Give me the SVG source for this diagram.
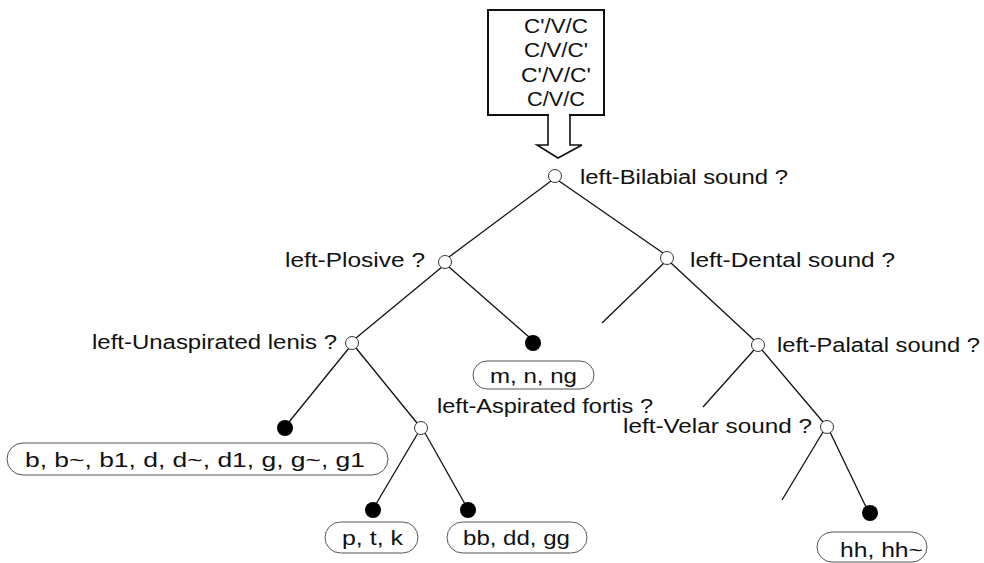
<svg xmlns="http://www.w3.org/2000/svg" width="984" height="563" viewBox="0 0 984 563">
  <style>
    text { font-family: "Liberation Sans", Arial, sans-serif; font-size: 19.5px; fill: #111; }
    .in { font-size: 20px; text-anchor: middle; }
    .edge { stroke: #111; stroke-width: 1.3; fill: none; }
    .q { fill: #fff; stroke: #333; stroke-width: 1; }
    .leaf { fill: #000; }
    .pill { fill: none; stroke: #555; stroke-width: 1; }
  </style>

  <!-- input syllable patterns -->
  <g id="input">
    <rect x="488" y="10" width="116" height="105" fill="#fff" stroke="#111" stroke-width="2"/>
    <text class="in" x="556" y="33" textLength="64" lengthAdjust="spacingAndGlyphs">C'/V/C</text>
    <text class="in" x="556" y="57" textLength="64" lengthAdjust="spacingAndGlyphs">C/V/C'</text>
    <text class="in" x="556" y="82" textLength="70" lengthAdjust="spacingAndGlyphs">C'/V/C'</text>
    <text class="in" x="556" y="106" textLength="58" lengthAdjust="spacingAndGlyphs">C/V/C</text>
    <rect x="549" y="112" width="20" height="5" fill="#fff"/>
    <path d="M548,114 V145 H537 L558,158 L582,145 H570 V114" fill="none" stroke="#111" stroke-width="1.6"/>
  </g>

  <!-- branches -->
  <g id="connectors">
    <line class="edge" x1="551" y1="181" x2="449" y2="257"/>
    <line class="edge" x1="559" y1="181" x2="663" y2="253"/>
    <line class="edge" x1="442" y1="267" x2="356" y2="338"/>
    <line class="edge" x1="449" y1="267" x2="529" y2="337"/>
    <line class="edge" x1="664" y1="263" x2="602" y2="323"/>
    <line class="edge" x1="671" y1="263" x2="754" y2="340"/>
    <line class="edge" x1="349" y1="348" x2="289" y2="422"/>
    <line class="edge" x1="356" y1="348" x2="417" y2="423"/>
    <line class="edge" x1="754" y1="350" x2="703" y2="407"/>
    <line class="edge" x1="762" y1="350" x2="823" y2="422"/>
    <line class="edge" x1="418" y1="433" x2="376" y2="504"/>
    <line class="edge" x1="425" y1="433" x2="465" y2="504"/>
    <line class="edge" x1="823" y1="432" x2="782" y2="500"/>
    <line class="edge" x1="830" y1="432" x2="866" y2="507"/>
  </g>

  <!-- decision nodes -->
  <g id="bilabial">
    <circle class="q" cx="555" cy="176" r="6.5"/>
    <text x="580" y="184" textLength="208" lengthAdjust="spacingAndGlyphs">left-Bilabial sound ?</text>
  </g>
  <g id="plosive">
    <circle class="q" cx="445" cy="262" r="6.5"/>
    <text x="285" y="267" textLength="140" lengthAdjust="spacingAndGlyphs">left-Plosive ?</text>
  </g>
  <g id="dental">
    <circle class="q" cx="667" cy="258" r="6.5"/>
    <text x="690" y="267" textLength="205" lengthAdjust="spacingAndGlyphs">left-Dental sound ?</text>
  </g>
  <g id="unaspirated">
    <circle class="q" cx="352" cy="343" r="6.5"/>
    <text x="92" y="349" textLength="245" lengthAdjust="spacingAndGlyphs">left-Unaspirated lenis ?</text>
  </g>
  <g id="palatal">
    <circle class="q" cx="758" cy="345" r="6.5"/>
    <text x="777" y="352" textLength="203" lengthAdjust="spacingAndGlyphs">left-Palatal sound ?</text>
  </g>
  <g id="aspirated">
    <circle class="q" cx="421" cy="428" r="6.5"/>
    <text x="437" y="413" textLength="216" lengthAdjust="spacingAndGlyphs">left-Aspirated fortis ?</text>
  </g>
  <g id="velar">
    <circle class="q" cx="827" cy="427" r="6.5"/>
    <text x="623" y="433" textLength="189" lengthAdjust="spacingAndGlyphs">left-Velar sound ?</text>
  </g>

  <!-- leaf classes -->
  <g id="nasals">
    <circle class="leaf" cx="533" cy="343" r="8"/>
    <rect class="pill" x="473" y="361" width="121" height="28" rx="14"/>
    <text x="490" y="383" textLength="87" lengthAdjust="spacingAndGlyphs">m, n, ng</text>
  </g>
  <g id="lenis">
    <circle class="leaf" cx="285" cy="428" r="8"/>
    <rect class="pill" x="7" y="443" width="381" height="32" rx="16"/>
    <text x="25" y="467" textLength="340" lengthAdjust="spacingAndGlyphs">b, b~, b1, d, d~, d1, g, g~, g1</text>
  </g>
  <g id="aspirates">
    <circle class="leaf" cx="373" cy="510" r="8"/>
    <rect class="pill" x="325" y="522" width="93" height="31" rx="15.5"/>
    <text x="342" y="545" textLength="61" lengthAdjust="spacingAndGlyphs">p, t, k</text>
  </g>
  <g id="fortis">
    <circle class="leaf" cx="468" cy="510" r="8"/>
    <rect class="pill" x="447" y="522" width="140" height="31" rx="15.5"/>
    <text x="463" y="545" textLength="107" lengthAdjust="spacingAndGlyphs">bb, dd, gg</text>
  </g>
  <g id="glottal">
    <circle class="leaf" cx="870" cy="513" r="8"/>
    <rect class="pill" x="817" y="532" width="110" height="30" rx="15"/>
    <text x="840" y="557" textLength="83" lengthAdjust="spacingAndGlyphs">hh, hh~</text>
  </g>
</svg>
